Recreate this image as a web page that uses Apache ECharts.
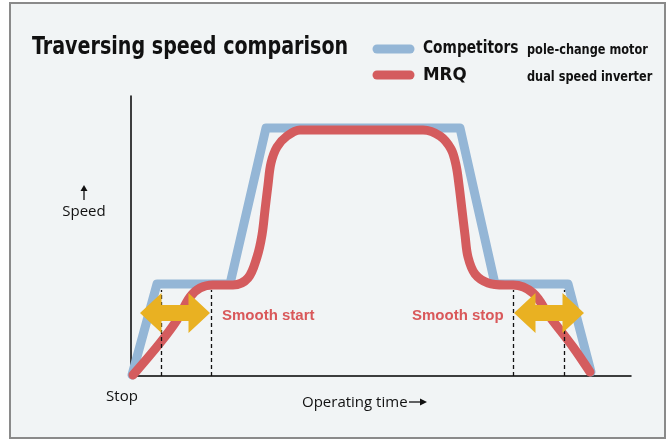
<!DOCTYPE html>
<html>
<head>
<meta charset="utf-8">
<script src="https://cdn.jsdelivr.net/npm/echarts@6/dist/echarts.min.js"></script>
<style>
html, body { margin: 0; padding: 0; background: #fff; }
#main { width: 670px; height: 441px; }
</style>
</head>
<body>
<div id="main"></div>
<script>
// speed profiles: [operating time, speed], units
var competitors = [[1, 1], [26, 92], [99, 92], [135, 248], [329, 248], [364, 92], [437, 92], [460, 4]];
var mrq = [
    [2, 1], [29, 33], [46, 56], [59, 79], [69, 88], [82, 91], [102, 91],
    [117, 98], [126, 119], [131, 141], [134, 166], [137, 191], [140, 213],
    [146, 229], [156, 240], [169, 246], [189, 246], [292, 246], [309, 240],
    [320, 227], [325, 211], [328, 191], [331, 166], [334, 141], [337, 119],
    [344, 102], [357, 93], [374, 91], [382, 91], [402, 83], [419, 59],
    [442, 29], [459, 4]
];
// dashed markers and the double arrows (from, to, height)
var dashTimes = [30, 80, 382, 433];
var dashTop = 86;
var arrows = [[9, 79, 63], [383, 453, 63]];

var blue = '#94b6d6';
var red = '#d45c5e';
var yellow = '#e9b122';
var narrow = '"DejaVu Sans Condensed", "DejaVu Sans", sans-serif';
var plain = '"Open Sans", "Noto Sans", sans-serif';

// condensed headline text, squeezed horizontally to look like the original
function squeezed(text, x, y, size, sx) {
    return {
        type: 'text', x: x, y: y, scaleX: sx,
        style: { text: text, font: 'bold ' + size + 'px ' + narrow, fill: '#111', verticalAlign: 'middle' }
    };
}

var chart = echarts.init(document.getElementById('main'));

chart.setOption({
    animation: false,
    grid: { left: 131, top: 96, width: 500, height: 280 },
    xAxis: {
        type: 'value', min: 0, max: 500,
        axisLine: { lineStyle: { color: '#000', width: 1.5 } },
        axisTick: { show: false }, axisLabel: { show: false }, splitLine: { show: false }
    },
    yAxis: {
        type: 'value', min: 0, max: 280,
        axisLine: { show: true, lineStyle: { color: '#000', width: 1.5 } },
        axisTick: { show: false }, axisLabel: { show: false }, splitLine: { show: false }
    },
    graphic: [
        { type: 'rect', z: -10, shape: { x: 10, y: 3, width: 655, height: 435 },
          style: { fill: '#f1f4f5', stroke: '#8a8a8a', lineWidth: 2 } },
        squeezed('Traversing speed comparison', 32, 47, 25, 0.85),
        { type: 'line', shape: { x1: 377, y1: 49, x2: 410, y2: 49 },
          style: { stroke: blue, lineWidth: 9, lineCap: 'round' } },
        { type: 'line', shape: { x1: 377, y1: 75, x2: 410, y2: 75 },
          style: { stroke: red, lineWidth: 9, lineCap: 'round' } },
        squeezed('Competitors', 423, 48, 18, 0.85),
        squeezed('pole-change motor', 527, 50, 14, 0.9),
        squeezed('MRQ', 423, 75, 18, 1.03),
        squeezed('dual speed inverter', 527, 77, 14, 0.9),
        { type: 'text', x: 84, y: 212,
          style: { text: 'Speed', font: '15px ' + plain, fill: '#111', align: 'center', verticalAlign: 'middle' } },
        { type: 'line', shape: { x1: 84, y1: 200, x2: 84, y2: 189 }, style: { stroke: '#111', lineWidth: 1.3 } },
        { type: 'polygon', shape: { points: [[80.5, 191], [87.5, 191], [84, 185]] }, style: { fill: '#111' } },
        { type: 'text', x: 122, y: 397,
          style: { text: 'Stop', font: '15px ' + plain, fill: '#111', align: 'center', verticalAlign: 'middle' } },
        { type: 'text', x: 302, y: 403,
          style: { text: 'Operating time', font: '15px ' + plain, fill: '#111', verticalAlign: 'middle' } },
        { type: 'line', shape: { x1: 409, y1: 402, x2: 422, y2: 402 }, style: { stroke: '#111', lineWidth: 1.3 } },
        { type: 'polygon', shape: { points: [[420, 398.5], [420, 405.5], [427, 402]] }, style: { fill: '#111' } },
        { type: 'text', x: 222, y: 316,
          style: { text: 'Smooth start', font: 'bold 15px "Liberation Sans", Arial, sans-serif', fill: '#d9585a', verticalAlign: 'middle' } },
        { type: 'text', x: 412, y: 316,
          style: { text: 'Smooth stop', font: 'bold 15px "Liberation Sans", Arial, sans-serif', fill: '#d9585a', verticalAlign: 'middle' } }
    ],
    series: [
        {
            name: 'Competitors', type: 'line', data: competitors, symbol: 'none', z: 2,
            lineStyle: { color: blue, width: 9, cap: 'round', join: 'round' },
            markLine: {
                silent: true, symbol: 'none', label: { show: false },
                lineStyle: { color: '#111', width: 1.3, type: [4, 3] },
                data: dashTimes.map(function (t) { return [{ coord: [t, 0] }, { coord: [t, dashTop] }]; })
            }
        },
        {
            name: 'MRQ', type: 'line', data: mrq, symbol: 'none', smooth: 0.35, z: 3,
            lineStyle: { color: red, width: 9, cap: 'round', join: 'round' }
        },
        {
            type: 'custom', z: 5, data: arrows,
            encode: { x: [0, 1], y: 2 },
            renderItem: function (params, api) {
                var a = api.coord([api.value(0), api.value(2)]);
                var b = api.coord([api.value(1), api.value(2)]);
                var y = a[1], h = 21.5, H = 20, s = 8;
                return {
                    type: 'polygon',
                    shape: { points: [
                        [a[0], y], [a[0] + h, y - H], [a[0] + h, y - s], [b[0] - h, y - s],
                        [b[0] - h, y - H], [b[0], y], [b[0] - h, y + H], [b[0] - h, y + s],
                        [a[0] + h, y + s], [a[0] + h, y + H]
                    ] },
                    style: { fill: yellow }
                };
            }
        }
    ]
});
</script>
</body>
</html>
